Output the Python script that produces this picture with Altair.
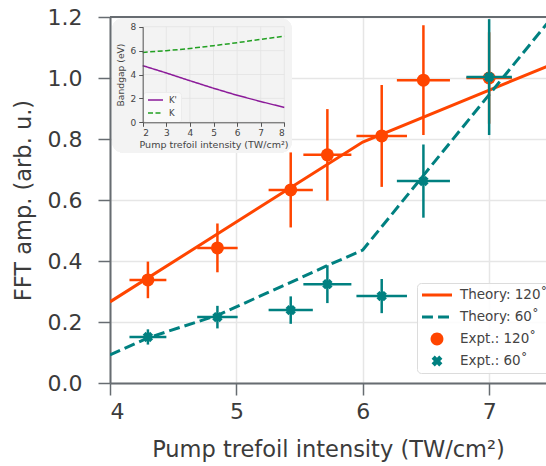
import altair as alt
import pandas as pd

# ---------------- data ----------------
x_expt = [4.30, 4.85, 5.43, 5.72, 6.15, 6.48, 7.00]
x_err = [0.146, 0.16, 0.175, 0.19, 0.20, 0.21, 0.18]
amp_120 = [0.338, 0.443, 0.633, 0.748, 0.810, 0.993, 1.000]
err_120 = [0.060, 0.080, 0.123, 0.150, 0.167, 0.180, 0.150]
amp_60 = [0.151, 0.216, 0.239, 0.324, 0.285, 0.662, 1.003]
err_60 = [0.025, 0.037, 0.045, 0.062, 0.056, 0.120, 0.190]

theory_x_120 = [4.0, 6.0, 7.5]
theory_120 = [0.266, 0.790, 1.045]
theory_x_60 = [4.0, 4.30, 4.85, 5.43, 5.72, 6.0, 7.5]
theory_60 = [0.092, 0.148, 0.222, 0.330, 0.385, 0.436, 1.200]

x_ticks = [4, 5, 6, 7]
y_ticks = [0.0, 0.2, 0.4, 0.6, 0.8, 1.0, 1.2]

legend_labels = ["Theory: 120˚", "Theory: 60˚", "Expt.: 120˚", "Expt.: 60˚"]

# inset: bandgap vs intensity
gap_x = [2, 3, 4, 5, 6, 7, 8]
gap_Kp = [4.74, 4.13, 3.48, 2.85, 2.26, 1.74, 1.24]
gap_K = [5.85, 5.99, 6.18, 6.41, 6.66, 6.94, 7.21]
inset_x_ticks = [2, 3, 4, 5, 6, 7, 8]
inset_y_ticks = [0, 2, 4, 6, 8]
valleys = ["K'", "K"]

# ---------------- style ----------------
ORANGE = "#FF4500"
TEAL = "#008080"
PURPLE = "#8B1A99"
GREEN = "#22A022"
FONT = "DejaVu Sans"
AX = "#676c71"
TXT = "#3b3b3b"
W, H = 436, 366

X_PATH = ("M0.424,-0.99L0,-0.566L-0.424,-0.99L-0.99,-0.424L-0.566,0L-0.99,0.424"
          "L-0.424,0.99L0,0.566L0.424,0.99L0.99,0.424L0.566,0L0.99,-0.424Z")
LEG_SOLID = "M-1,-0.1H1V0.1H-1Z"
LEG_DASH = "M-1,-0.1H-0.27V0.1H-1Z M0.07,-0.1H0.8V0.1H0.07Z"
LEG_CIRCLE = "M-0.43,0A0.43,0.43 0 1,0 0.43,0A0.43,0.43 0 1,0 -0.43,0Z"
LEG_X = ("M0.15,-0.36L0,-0.21L-0.15,-0.36L-0.36,-0.15L-0.21,0L-0.36,0.15"
         "L-0.15,0.36L0,0.21L0.15,0.36L0.36,0.15L0.21,0L0.36,-0.15Z")

# ---------------- tables ----------------
df120 = pd.DataFrame({"x": x_expt, "y": amp_120, "xe": x_err, "ye": err_120})
df60 = pd.DataFrame({"x": x_expt, "y": amp_60, "xe": x_err, "ye": err_60})
for d in (df120, df60):
    d["xlo"] = d["x"] - d["xe"]
    d["xhi"] = d["x"] + d["xe"]
    d["ylo"] = d["y"] - d["ye"]
    d["yhi"] = d["y"] + d["ye"]
th120 = pd.DataFrame({"x": theory_x_120, "y": theory_120})
th60 = pd.DataFrame({"x": theory_x_60, "y": theory_60})
leg_df = pd.DataFrame({"series": legend_labels, "x": [None] * 4, "y": [None] * 4})

gap_df = pd.DataFrame({
    "ix": gap_x + gap_x,
    "iy": gap_Kp + gap_K,
    "valley": [valleys[0]] * len(gap_x) + [valleys[1]] * len(gap_x),
})
vgrid = pd.DataFrame({"ix": inset_x_ticks, "iy": [0] * len(inset_x_ticks), "iy2": [8] * len(inset_x_ticks)})
hgrid = pd.DataFrame({"iy": inset_y_ticks, "ix": [2] * len(inset_y_ticks), "ix2": [8] * len(inset_y_ticks)})

# ---------------- main scales / axes ----------------
xs = alt.Scale(domain=[4, 7.45], nice=False, zero=False)
ys = alt.Scale(domain=[0, 1.2], nice=False, zero=False)
xaxis = alt.Axis(values=x_ticks, format="d", grid=True, gridColor="#e6e6e6", gridWidth=1.5,
                 domainColor=AX, domainWidth=2, tickColor=AX, tickWidth=1.5, tickSize=12,
                 labelFont=FONT, labelFontSize=22, labelColor=TXT, labelPadding=6,
                 titleFont=FONT, titleFontSize=22.5, titleColor=TXT, titleFontWeight="normal",
                 titlePadding=16)
yaxis = alt.Axis(values=y_ticks, format=".1f", grid=True, gridColor="#e6e6e6", gridWidth=1.5,
                 domainColor=AX, domainWidth=2, tickColor=AX, tickWidth=1.5, tickSize=12,
                 labelFont=FONT, labelFontSize=22, labelColor=TXT, labelPadding=16,
                 titleFont=FONT, titleFontSize=22.5, titleColor=TXT, titleFontWeight="normal",
                 titlePadding=12)
XT = "Pump trefoil intensity (TW/cm²)"
YT = "FFT amp. (arb. u.)"


def X(f):
    return alt.X(f"{f}:Q", scale=xs, axis=xaxis, title=XT)


def Y(f):
    return alt.Y(f"{f}:Q", scale=ys, axis=yaxis, title=YT)


line120 = alt.Chart(th120).mark_line(color=ORANGE, strokeWidth=3, clip=True).encode(x=X("x"), y=Y("y"))
line60 = alt.Chart(th60).mark_line(color=TEAL, strokeWidth=3, strokeDash=[11, 5], clip=True).encode(x=X("x"), y=Y("y"))


def expt(df, color, shape, size):
    hb = alt.Chart(df).mark_rule(color=color, strokeWidth=2.5).encode(x=X("xlo"), x2="xhi:Q", y=Y("y"))
    vb = alt.Chart(df).mark_rule(color=color, strokeWidth=2.5).encode(x=X("x"), y=Y("ylo"), y2="yhi:Q")
    pt = alt.Chart(df).mark_point(shape=shape, filled=True, size=size, opacity=1, color=color).encode(x=X("x"), y=Y("y"))
    return [hb, vb, pt]


top_spine = alt.Chart(th120).mark_rule(color=AX, strokeWidth=2).encode(
    x=alt.value(0), x2=alt.value(W), y=alt.value(0))

legend_layer = alt.Chart(leg_df).mark_point(filled=True, opacity=1).encode(
    x=X("x"), y=Y("y"),
    color=alt.Color("series:N",
                    scale=alt.Scale(domain=legend_labels, range=[ORANGE, TEAL, ORANGE, TEAL]),
                    legend=alt.Legend(title=None, orient="none", legendX=307, legendY=266,
                                      padding=5, symbolSize=900, clipHeight=14, rowPadding=8,
                                      labelFont=FONT, labelFontSize=13.5, labelColor="#444",
                                      labelOffset=8, strokeColor="#dcdcdc",
                                      fillColor="rgba(255,255,255,0.85)", cornerRadius=4,
                                      symbolStrokeWidth=0, symbolOpacity=1)),
    shape=alt.Shape("series:N",
                    scale=alt.Scale(domain=legend_labels, range=[LEG_SOLID, LEG_DASH, LEG_CIRCLE, LEG_X]),
                    legend=alt.Legend(title=None, orient="none", legendX=307, legendY=266)),
)

main = alt.layer(
    line120, line60,
    *expt(df120, ORANGE, "circle", 169),
    *expt(df60, TEAL, X_PATH, 110),
    top_spine, legend_layer,
)

# ---------------- inset ----------------
ixs = alt.Scale(domain=[2, 8], range=[32.7, 174.3], nice=False, zero=False)
iys = alt.Scale(domain=[0, 8], range=[105.3, 9.7], nice=False, zero=False)
ixaxis = alt.Axis(orient="bottom", offset=105.3 - H, values=inset_x_ticks, format="d", grid=False,
                  domainColor="#555", domainWidth=1, tickColor="#555", tickWidth=1, tickSize=4,
                  labelFont=FONT, labelFontSize=9, labelColor="#444", labelPadding=2,
                  titleFont=FONT, titleFontSize=9.5, titleColor="#444", titleFontWeight="normal",
                  titlePadding=2, zindex=1)
iyaxis = alt.Axis(orient="left", offset=-32.7, values=inset_y_ticks, format="d", grid=False,
                  domainColor="#555", domainWidth=1, tickColor="#555", tickWidth=1, tickSize=4,
                  labelFont=FONT, labelFontSize=9, labelColor="#444", labelPadding=3,
                  titleFont=FONT, titleFontSize=9.2, titleColor="#444", titleFontWeight="normal",
                  titlePadding=4, zindex=1)
IXT = "Pump trefoil intensity (TW/cm²)"
IYT = "Bandgap (eV)"


def IX(f):
    return alt.X(f"{f}:Q", scale=ixs, axis=ixaxis, title=IXT)


def IY(f):
    return alt.Y(f"{f}:Q", scale=iys, axis=iyaxis, title=IYT)


inset_bg = alt.Chart(vgrid).mark_rect(color="#f3f3f3", cornerRadius=12).encode(
    x=alt.value(2), x2=alt.value(182), y=alt.value(1), y2=alt.value(136))
inset_vgrid = alt.Chart(vgrid).mark_rule(color="#e2e2e2", strokeWidth=0.8).encode(
    x=IX("ix"), y=IY("iy"), y2="iy2:Q")
inset_hgrid = alt.Chart(hgrid).mark_rule(color="#e2e2e2", strokeWidth=0.8).encode(
    y=IY("iy"), x=IX("ix"), x2="ix2:Q")
inset_lines = alt.Chart(gap_df).mark_line(strokeWidth=1.5).encode(
    x=IX("ix"), y=IY("iy"),
    color=alt.Color("valley:N", scale=alt.Scale(domain=valleys, range=[PURPLE, GREEN]),
                    legend=alt.Legend(title=None, orient="none", legendX=33, legendY=75,
                                      padding=4, symbolType="stroke", symbolSize=225,
                                      symbolStrokeWidth=1.5, clipHeight=8, rowPadding=4,
                                      labelFont=FONT, labelFontSize=8.5, labelColor="#444",
                                      labelOffset=5, strokeColor="#ececec",
                                      fillColor="rgba(250,250,250,0.9)", cornerRadius=3)),
    strokeDash=alt.StrokeDash("valley:N", scale=alt.Scale(domain=valleys, range=[[1, 0], [5, 2.5]]),
                              legend=alt.Legend(title=None, orient="none", legendX=33, legendY=75)),
)

inset = alt.layer(inset_bg, inset_vgrid, inset_hgrid, inset_lines)

chart = alt.layer(main, inset).resolve_scale(
    x="independent", y="independent", color="independent",
    shape="independent", strokeDash="independent",
).properties(
    width=W, height=H,
    autosize=alt.AutoSizeParams(type="none"),
    padding={"left": 110, "top": 17, "right": 0, "bottom": 83},
    background="white",
).configure_view(stroke=None)

chart.save("out.html", embed_options={"renderer": "svg", "actions": False})
